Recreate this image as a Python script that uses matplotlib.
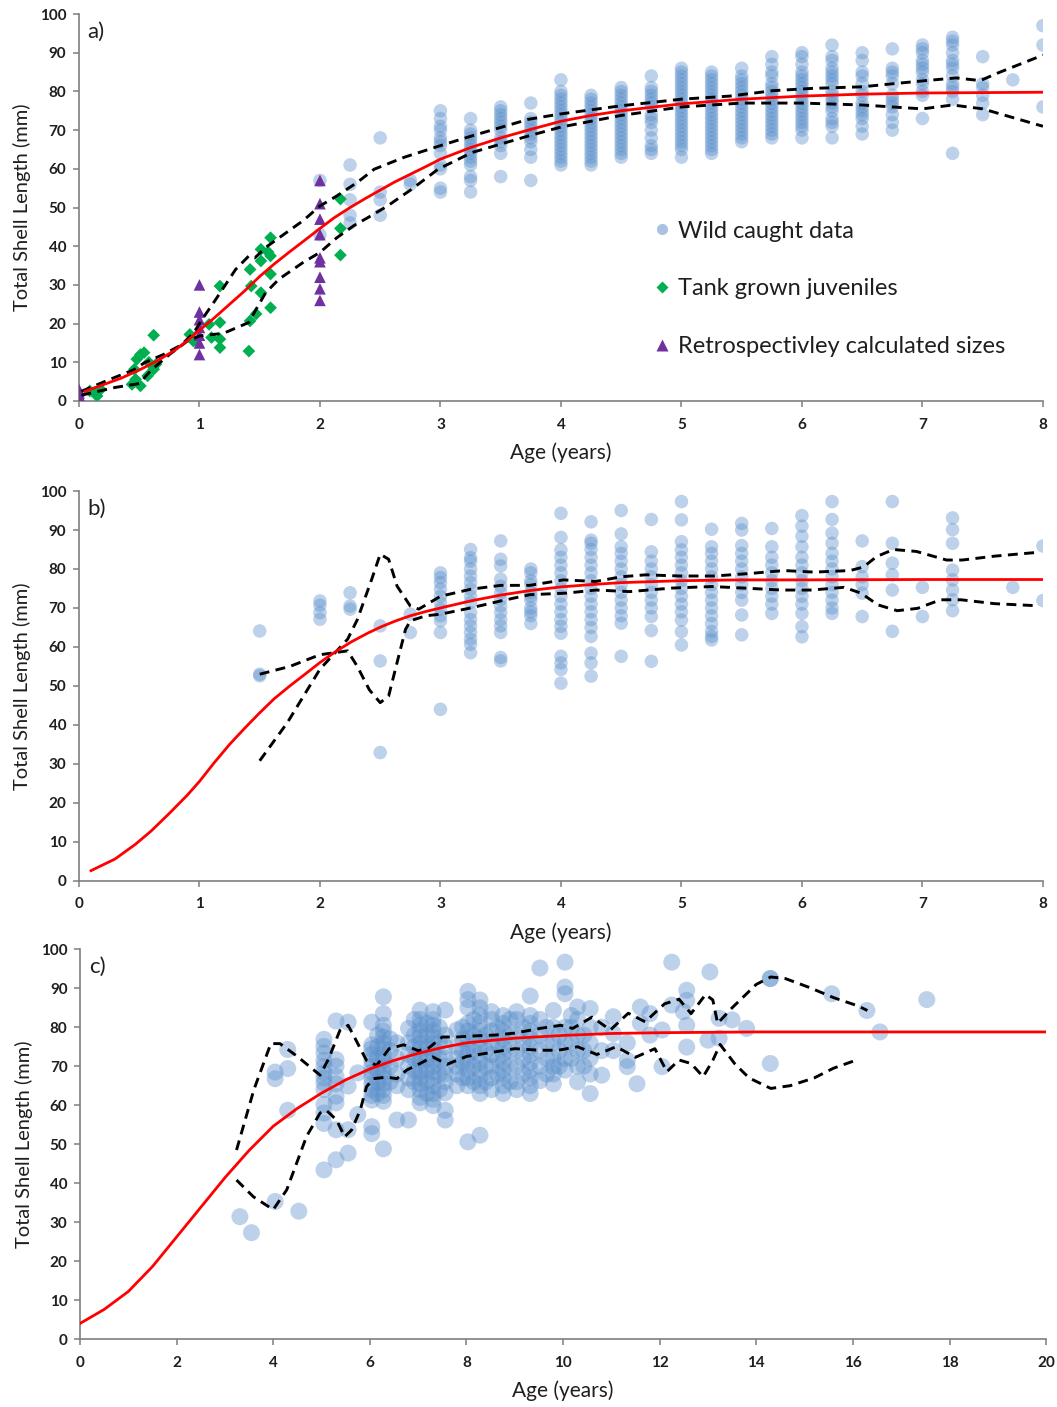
import matplotlib
matplotlib.use("Agg")
import matplotlib.pyplot as plt
from matplotlib.lines import Line2D

plt.rcParams['font.family'] = ['Lato', 'DejaVu Sans']

# ---------------- panel a data ----------------
a_wild = {
    2.0: [57, 43],
    2.25: [61, 56, 52, 48, 46],
    2.5: [68, 54, 52, 48],
    2.75: [57, 56],
    3.0: [75, 73, 71, 70, 68, 67, 66, 64, 61, 60, 55, 54],
    3.25: [73, 70, 69, 68, 67, 66, 65, 64, 63, 62, 61, 58, 57, 54],
    3.5: [76, 75, 74, 73, 72, 71, 70, 68, 67, 66, 64, 58],
    3.75: [77, 73, 72, 71, 70, 69, 68, 67, 65, 63, 57],
    4.0: [83, 80, 79, 78, 77, 76, 75, 74, 73, 72, 71, 70, 69, 68, 67, 66, 65, 64, 63, 62, 61],
    4.25: [79, 78, 77, 76, 75, 74, 73, 72, 71, 70, 69, 68, 67, 66, 65, 64, 63, 62, 61],
    4.5: [81, 80, 79, 78, 77, 76, 75, 74, 73, 72, 71, 70, 69, 68, 67, 66, 65, 64, 63],
    4.75: [84, 81, 80, 79, 78, 77, 76, 74, 73, 72, 70, 68, 66, 65, 64],
    5.0: [86, 85, 84, 83, 82, 81, 80, 79, 78, 77, 76, 75, 74, 73, 72, 71, 70, 69, 68, 67, 66, 65, 63],
    5.25: [85, 84, 83, 82, 81, 80, 79, 78, 77, 76, 75, 74, 73, 72, 71, 70, 69, 68, 67, 66, 65, 64],
    5.5: [86, 84, 83, 82, 81, 80, 79, 78, 77, 76, 75, 74, 73, 72, 71, 70, 69, 68, 67],
    5.75: [89, 87, 85, 84, 82, 81, 80, 79, 78, 77, 76, 75, 74, 73, 72, 71, 70, 69, 68],
    6.0: [90, 89, 87, 85, 84, 83, 82, 81, 80, 79, 78, 77, 76, 75, 74, 73, 72, 71, 70, 68],
    6.25: [92, 89, 88, 86, 85, 84, 83, 82, 80, 79, 78, 77, 76, 75, 73, 72, 71, 68],
    6.5: [90, 88, 85, 84, 82, 80, 79, 77, 76, 75, 74, 73, 71, 69],
    6.75: [91, 86, 85, 84, 82, 79, 78, 77, 76, 74, 72, 70],
    7.0: [92, 91, 90, 88, 87, 86, 85, 83, 82, 80, 79, 73],
    7.25: [94, 93, 92, 90, 88, 87, 86, 84, 82, 81, 80, 78, 64],
    7.5: [89, 82, 81, 79, 77, 74],
    7.75: [83],
    8.0: [97, 92, 76],
}

tank_age = [0.09, 0.13, 0.15, 0.18, 0.44, 0.46, 0.47, 0.48, 0.51, 0.51, 0.54, 0.57, 0.58, 0.62,
            0.62, 0.64, 0.92, 0.95, 1.08, 1.1, 1.17, 1.17, 1.17, 1.17, 1.41, 1.42, 1.42, 1.43,
            1.47, 1.51, 1.51, 1.51, 1.59, 1.59, 1.59, 1.59, 1.57, 2.17, 2.17, 2.17]
tank_len = [2.6, 2.2, 1.3, 3.0, 4.3, 8.2, 5.6, 10.8, 3.9, 12.0, 12.5, 6.5, 10.0, 17.0,
            8.2, 9.5, 17.2, 15.5, 19.8, 16.4, 29.7, 20.3, 16.0, 13.8, 12.9, 20.7, 34.0, 29.7,
            22.5, 39.2, 36.2, 28.0, 42.2, 37.5, 32.8, 24.1, 38.5, 52.2, 44.6, 37.7]

retro_age = [0, 0, 0, 0, 0, 0, 1, 1, 1, 1, 1, 1, 1, 2, 2, 2, 2, 2, 2, 2, 2, 2]
retro_len = [0.5, 1, 1.5, 2, 2.5, 3, 30, 23, 21, 19, 17, 15, 12, 57, 51, 47, 43, 37, 36, 32, 29, 26]

a_fit_x = [0.05, 0.2, 0.35, 0.5, 0.65, 0.8, 0.9, 1.0, 1.12, 1.25, 1.38, 1.5, 1.62, 1.75, 1.88,
           2.0, 2.12, 2.25, 2.38, 2.5, 2.62, 2.75, 2.88, 3.0, 3.25, 3.5, 3.75, 4.0, 4.25, 4.5,
           5.0, 5.5, 6.0, 6.5, 7.0, 8.0]
a_fit_y = [2.5, 4.2, 5.9, 8.0, 10.4, 13.2, 15.6, 18.3, 21.4, 25.0, 28.6, 32.2, 35.4, 38.6, 41.7,
           44.6, 47.4, 50.0, 52.4, 54.5, 56.6, 58.6, 60.6, 62.5, 65.5, 68.0, 70.2, 72.3, 73.8, 75.0,
           76.8, 78.0, 78.8, 79.3, 79.6, 79.8]

a_up_x = [0.02, 0.25, 0.45, 0.55, 0.7, 0.85, 0.95, 1.02, 1.13, 1.3, 1.41, 1.46, 1.55, 1.72, 1.86,
          2.0, 2.14, 2.31, 2.45, 2.7, 3.0, 3.26, 3.73, 4.0, 4.5, 5.0, 5.4, 5.76, 6.09, 6.5, 6.79,
          7.06, 7.28, 7.48, 7.62, 8.0]
a_up_y = [2.5, 5.5, 8.0, 10.0, 12.0, 14.5, 17.5, 21.0, 26.0, 34.0, 37.5, 37.0, 39.7, 43.5, 46.6,
          50.4, 53.0, 56.5, 59.9, 63.0, 66.0, 68.5, 72.8, 74.2, 76.3, 78.0, 78.8, 80.2, 80.8, 81.2,
          82.1, 82.9, 83.5, 82.8, 84.7, 89.4]
a_lo_x = [0.02, 0.3, 0.5, 0.6, 0.75, 0.9, 1.0, 1.2, 1.41, 1.47, 1.55, 1.66, 1.86, 2.0, 2.14, 2.28,
          2.42, 2.56, 2.76, 2.98, 3.26, 3.73, 4.0, 4.5, 5.0, 5.5, 6.0, 6.5, 7.0, 7.25, 7.5, 8.0]
a_lo_y = [1.5, 3.5, 4.5, 8.0, 12.0, 15.5, 16.8, 17.5, 20.3, 23.7, 28.0, 31.5, 35.8, 38.4, 42.2,
          45.3, 47.8, 50.4, 54.7, 59.9, 64.2, 68.5, 70.8, 73.8, 76.0, 77.0, 77.0, 76.5, 75.5,
          76.5, 75.5, 71.0]

# ---------------- panel b data ----------------
b_wild = {
    1.5: [64.1, 53.0, 52.6],
    2.0: [71.8, 70.7, 68.8, 67.1],
    2.25: [73.9, 70.5, 69.7],
    2.5: [65.4, 56.4, 32.9],
    2.75: [68.4, 63.7],
    3.0: [79, 77.8, 76.5, 74.8, 73, 71.4, 69.7, 68, 66.7, 63.7, 44],
    3.25: [85, 82.9, 82, 80, 78.2, 76.5, 74.8, 73, 71.4, 68.8, 67, 65.4, 63.7, 62, 60.7, 58.5],
    3.5: [87.2, 82.5, 80.8, 77.4, 75.6, 73.9, 72.2, 70.5, 68.8, 67, 65.4, 63.7, 57.3, 56.4],
    3.75: [80, 79, 77, 76, 74, 73, 72, 70, 69, 68, 66],
    4.0: [94.3, 88.1, 84.9, 83, 81, 79, 77, 75, 73, 71, 69, 67, 65.3, 63.5, 57.6, 55.9, 54.2, 50.7],
    4.25: [92.1, 87.4, 86.6, 85, 83, 81, 79, 77, 75, 73, 71, 69, 67, 65, 62.7, 58.4, 55.9, 52.5],
    4.5: [95, 89, 85.7, 84, 82, 80, 78, 76, 74, 72, 70, 68, 66.1, 57.6],
    4.75: [92.7, 84.4, 82, 80, 78, 76, 74, 72, 70, 67.8, 64.2, 56.3],
    5.0: [97.3, 92.6, 87, 84.9, 83, 81, 79, 77, 75, 73, 71, 69, 66.9, 63.9, 60.5],
    5.25: [90.2, 85.7, 84, 82, 80, 78, 76, 74, 72, 70, 68, 66, 64, 62.7, 61.8],
    5.5: [91.7, 90, 86, 84, 82, 80, 78, 76, 74, 72, 68.2, 63.1],
    5.75: [90.4, 85.7, 83, 81, 79, 77, 75, 73, 71, 68.6],
    6.0: [93.7, 91, 88.4, 85.7, 83, 81, 79, 77, 75, 73, 71, 68.6, 65.2, 62.6],
    6.25: [97.3, 92.7, 89.2, 86.6, 84, 82, 80, 78, 76, 74, 72, 70, 68.6],
    6.5: [87.2, 80.6, 78, 76, 73.8, 67.8],
    6.75: [97.3, 86.6, 81.5, 78.5, 74.6, 64],
    7.0: [75.3, 67.8],
    7.25: [93.1, 90.1, 86.6, 79.7, 77.2, 74.6, 72.1, 69.3],
    7.75: [75.3],
    8.0: [85.9, 71.9],
}

b_fit_x = [0.1, 0.3, 0.47, 0.6, 0.75, 0.9, 1.0, 1.12, 1.25, 1.38, 1.5, 1.62, 1.75, 1.88, 2.0,
           2.13, 2.26, 2.4, 2.51, 2.63, 2.75, 2.88, 3.0, 3.25, 3.5, 3.75, 4.0, 4.25, 4.5, 5.0,
           5.5, 6.0, 7.0, 8.0]
b_fit_y = [2.6, 5.6, 9.4, 12.8, 17.3, 22.0, 25.5, 30.2, 35.0, 39.3, 43.1, 46.7, 50.0, 53.1, 56.0,
           58.8, 61.3, 63.6, 65.2, 66.7, 68.0, 69.1, 70.0, 71.8, 73.3, 74.5, 75.4, 76.0, 76.5, 77.0,
           77.2, 77.2, 77.3, 77.3]

b_d1_x = [1.5, 1.75, 2.0, 2.23, 2.31, 2.41, 2.5, 2.57, 2.64, 2.71, 2.75, 2.88, 3.0, 3.25, 3.5,
          3.74, 4.04, 4.29, 4.57, 4.92, 5.25, 5.52, 5.83, 6.08, 6.35, 6.49, 6.63, 6.79, 6.96,
          7.15, 7.32, 7.6, 7.93]
b_d1_y = [53.0, 55.0, 58.0, 59.0, 55.0, 49.0, 45.7, 47.4, 56.0, 64.5, 66.7, 68.0, 68.4, 70.0, 71.8,
          73.4, 73.8, 74.6, 74.2, 75.1, 75.5, 75.1, 74.6, 74.6, 75.3, 73.8, 70.8, 69.3, 69.9,
          72.1, 72.1, 71.1, 70.6]
b_d2_x = [1.5, 1.73, 2.0, 2.23, 2.31, 2.43, 2.5, 2.57, 2.64, 2.75, 2.82, 3.0, 3.25, 3.5, 3.74,
          4.02, 4.29, 4.5, 4.7, 4.99, 5.27, 5.55, 5.85, 6.1, 6.4, 6.51, 6.62, 6.76, 6.95, 7.2,
          7.33, 7.6, 7.93]
b_d2_y = [30.8, 40.6, 54.3, 62.0, 67.0, 77.4, 83.8, 82.5, 75.6, 70.5, 69.7, 73.0, 74.8, 75.8, 75.8,
          77.2, 76.8, 78.0, 78.5, 78.2, 78.2, 78.8, 79.6, 79.2, 79.6, 80.5, 83.2, 85.0, 84.5,
          82.3, 82.3, 83.3, 84.2]

# ---------------- panel c data ----------------
c_wild = {
    3.31: [31.4],
    3.55: [27.3],
    4.04: [35.3, 66.8, 68.5],
    4.3: [58.7, 69.4, 74.3],
    4.53: [32.8],
    5.05: [43.4, 55.3, 58.0, 60.2, 64, 65.7, 67, 68.3, 70, 71.5, 73.4, 75.1, 76.9],
    5.3: [46.0, 53.7, 60.6, 62.3, 65.5, 67.4, 70, 71.7, 81.6],
    5.55: [47.7, 53.7, 64.9, 81.3],
    5.75: [57.6, 68.3],
    6.04: [52.7, 54.5, 61.3, 62.5, 64, 65.5, 67, 68.5, 70, 71.5, 73, 74.5, 75.5, 81.3],
    6.16: [63, 66, 69, 72, 75, 78],
    6.28: [48.8, 61, 62.5, 64, 65.5, 67, 68.5, 70, 71.5, 73, 74.5, 76, 77.5, 79, 80.5, 83.5, 87.8],
    6.42: [66, 70, 74, 77],
    6.56: [56.2, 65, 68, 72, 76],
    6.8: [56.2, 64, 67, 70, 73, 76, 79.7],
    6.92: [66, 69, 72, 75, 78, 82],
    7.04: [60.6, 62, 64, 65.5, 67, 68.5, 70, 71.5, 73, 74.5, 76, 77.5, 79, 80.5, 82, 84.4],
    7.18: [63, 66, 69, 72, 75, 78, 81],
    7.31: [59.9, 61.5, 63, 65, 67, 68.5, 70, 71.5, 73, 74.5, 76, 77.5, 79, 80.5, 82, 84],
    7.44: [64, 68, 72, 76, 80],
    7.56: [56.2, 58.7, 63.2, 66, 68, 70, 72, 75, 78, 84.4],
    7.8: [65, 68, 70, 72, 75, 79.3],
    7.92: [67, 71, 74, 77, 80],
    8.03: [50.6, 65, 67, 69, 71, 73, 75, 77, 79, 81, 85, 87.1, 89.2],
    8.15: [66, 70, 74, 78, 82],
    8.28: [52.3, 63, 65, 67, 69, 71, 73, 75, 77, 79, 81, 83, 85, 87],
    8.4: [66, 70, 74, 78],
    8.52: [64, 67, 70, 73, 76, 79, 82, 84],
    8.64: [68, 72, 76, 80],
    8.76: [63, 65, 67, 69, 71, 73, 75, 77, 79, 81, 83],
    8.9: [66, 70, 74, 78, 82],
    9.04: [64, 66, 70, 74, 78, 82, 84],
    9.18: [68, 72, 76, 80],
    9.32: [63, 65, 67, 69, 71, 73, 75, 77, 79, 81, 83, 88],
    9.52: [66.3, 70, 74, 78, 82, 95.2],
    9.66: [68, 72, 76, 80],
    9.8: [65.5, 68, 69.9, 72, 76, 80, 84.3],
    9.92: [70, 74, 78],
    10.04: [69, 72, 76, 80, 88.6, 90.3, 96.7],
    10.17: [72, 76, 80, 83],
    10.3: [66, 70, 74.1, 78, 82, 85.2],
    10.43: [70, 74, 78],
    10.56: [63, 68, 72, 76, 80, 84.8],
    10.8: [67.7, 74, 80],
    11.04: [74, 78.4, 82.7],
    11.33: [69.9, 71.5, 76],
    11.53: [65.5],
    11.6: [81, 85.2],
    11.8: [78, 83.5],
    12.05: [69.9, 79.3],
    12.25: [85.7, 96.7],
    12.49: [84],
    12.56: [74.9, 80.5, 86.9, 89.5],
    13.0: [76.7],
    13.04: [94.2],
    13.23: [77.2, 82.3],
    13.5: [81.9],
    13.8: [79.7],
    14.29: [70.7, 92.5, 92.5],
    15.56: [88.6],
    16.29: [84.3],
    16.56: [78.8],
    17.53: [87.1],
}

c_fit_x = [0.0, 0.5, 1.0, 1.5, 2.0, 2.5, 3.0, 3.5, 4.0, 4.5, 5.0, 5.5, 6.0, 6.5, 7.0, 7.5, 8.0,
           9.0, 10.0, 11.0, 12.0, 13.0, 14.0, 20.0]
c_fit_y = [4.0, 7.6, 12.2, 18.6, 26.2, 33.8, 41.4, 48.4, 54.6, 59.2, 63.1, 66.5, 69.3, 71.5, 73.3,
           74.8, 76.0, 77.2, 77.9, 78.4, 78.6, 78.7, 78.8, 78.8]

c_d1_x = [3.24, 3.6, 3.95, 4.14, 4.5, 4.97, 5.15, 5.38, 5.55, 5.7, 5.93, 6.14, 6.4, 6.7, 7.0, 7.2,
          7.5, 7.8, 8.2, 8.6, 9.0, 9.52, 9.95, 10.2, 10.6, 10.98, 11.35, 11.7, 12.1, 12.4, 12.65,
          12.95, 13.1, 13.2, 13.5, 14.0, 14.3, 14.6, 15.1, 15.6, 16.1, 16.3]
c_d1_y = [48.5, 64.0, 75.8, 75.8, 72.5, 67.7, 72.0, 79.2, 80.5, 77.0, 71.5, 70.2, 74.5, 75.5, 74.0,
          74.5, 77.5, 77.5, 77.8, 78.0, 78.5, 79.7, 80.5, 79.7, 82.6, 79.3, 83.6, 81.4, 86.0, 87.2,
          83.5, 88.4, 87.0, 81.0, 85.0, 91.0, 92.9, 92.5, 90.2, 87.6, 85.5, 84.3]
c_d2_x = [3.24, 3.59, 4.0, 4.28, 4.69, 4.97, 5.1, 5.31, 5.48, 5.62, 5.8, 5.93, 6.07, 6.35, 6.56,
          6.76, 7.04, 7.3, 7.6, 8.0, 8.5, 9.0, 9.52, 9.9, 10.3, 10.7, 11.1, 11.5, 11.9, 12.15,
          12.4, 12.65, 12.9, 13.1, 13.25, 13.55, 13.85, 14.3, 14.7, 15.2, 15.6, 16.1]
c_d2_y = [40.8, 36.5, 33.2, 38.3, 52.0, 58.0, 58.7, 56.2, 51.9, 53.6, 58.7, 64.7, 66.8, 67.2, 66.8,
          69.0, 70.7, 72.4, 70.5, 72.5, 73.5, 74.5, 74.1, 74.1, 75.0, 73.0, 75.0, 72.3, 74.5, 68.6,
          71.6, 70.7, 67.3, 71.5, 75.6, 70.7, 67.0, 64.3, 65.0, 67.0, 69.5, 71.7]

# ---------------- styling ----------------
WILD = '#5b8fcb'
TANK = '#00b050'
RETRO = '#7030a0'
SPINE = '#7f7f7f'
TXT = '#1f1f1f'


def flatten(d):
    xs, ys = [], []
    for age, vals in d.items():
        xs += [age] * len(vals)
        ys += vals
    return xs, ys


def style_axis(ax, xmax, xstep, tag):
    ax.set_xlim(0, xmax)
    ax.set_ylim(0, 100)
    ax.set_xticks(range(0, xmax + 1, xstep))
    ax.set_yticks(range(0, 101, 10))
    for s in ['top', 'right']:
        ax.spines[s].set_visible(False)
    for s in ['left', 'bottom']:
        ax.spines[s].set_color(SPINE)
        ax.spines[s].set_linewidth(1.2)
    ax.tick_params(direction='out', length=4, width=1.1, color=SPINE,
                   labelsize=11, labelcolor=TXT, pad=5)
    ax.tick_params(axis='x', pad=8)
    for lab in ax.get_xticklabels() + ax.get_yticklabels():
        lab.set_fontweight('bold')
    ax.set_xlabel('Age (years)', fontsize=15, color=TXT, labelpad=8)
    ax.set_ylabel('Total Shell Length (mm)', fontsize=14.5, color=TXT, labelpad=6)
    ax.text(0.009, 0.98, tag, transform=ax.transAxes, fontsize=16, color=TXT,
            ha='left', va='top')


def dashed(ax, x, y):
    ax.plot(x, y, color='black', lw=2.1, dashes=(3.4, 2.2), zorder=4)


fig = plt.figure(figsize=(10.57, 14.07), dpi=100)

# panel a
ax1 = fig.add_axes([0.0747, 0.715, 0.912, 0.275])
wx, wy = flatten(a_wild)
ax1.scatter(wx, wy, s=95, color=WILD, alpha=0.4, edgecolors='none', zorder=2)
ax1.scatter(tank_age, tank_len, s=42, marker='D', color=TANK, edgecolors='none', zorder=3)
ax1.scatter(retro_age, retro_len, s=70, marker='^', color=RETRO, edgecolors='none', zorder=3)
dashed(ax1, a_up_x, a_up_y)
dashed(ax1, a_lo_x, a_lo_y)
ax1.plot(a_fit_x, a_fit_y, color='#ff0000', lw=2.0, zorder=5)
style_axis(ax1, 8, 1, 'a)')
handles = [
    Line2D([], [], ls='none', marker='o', ms=8, color='#a9c2e3', mec='none'),
    Line2D([], [], ls='none', marker='D', ms=6, color=TANK, mec='none'),
    Line2D([], [], ls='none', marker='^', ms=8, color=RETRO, mec='none'),
]
ax1.legend(handles, ['Wild caught data', 'Tank grown juveniles', 'Retrospectivley calculated sizes'],
           loc='center left', bbox_to_anchor=(0.585, 0.29), frameon=False, fontsize=17,
           labelspacing=1.55, handlelength=0.8, handletextpad=0.3, borderpad=0.4,
           borderaxespad=0, labelcolor=TXT)

# panel b
ax2 = fig.add_axes([0.0747, 0.374, 0.912, 0.277])
wx, wy = flatten(b_wild)
ax2.scatter(wx, wy, s=95, color=WILD, alpha=0.4, edgecolors='none', zorder=2)
dashed(ax2, b_d1_x, b_d1_y)
dashed(ax2, b_d2_x, b_d2_y)
ax2.plot(b_fit_x, b_fit_y, color='#ff0000', lw=2.0, zorder=5)
style_axis(ax2, 8, 1, 'b)')

# panel c
ax3 = fig.add_axes([0.0757, 0.0483, 0.914, 0.277])
wx, wy = flatten(c_wild)
ax3.scatter(wx, wy, s=150, color=WILD, alpha=0.4, edgecolors='none', zorder=2)
dashed(ax3, c_d1_x, c_d1_y)
dashed(ax3, c_d2_x, c_d2_y)
ax3.plot(c_fit_x, c_fit_y, color='#ff0000', lw=2.0, zorder=5)
style_axis(ax3, 20, 2, 'c)')

fig.savefig('out.png', dpi=100, facecolor='white')
